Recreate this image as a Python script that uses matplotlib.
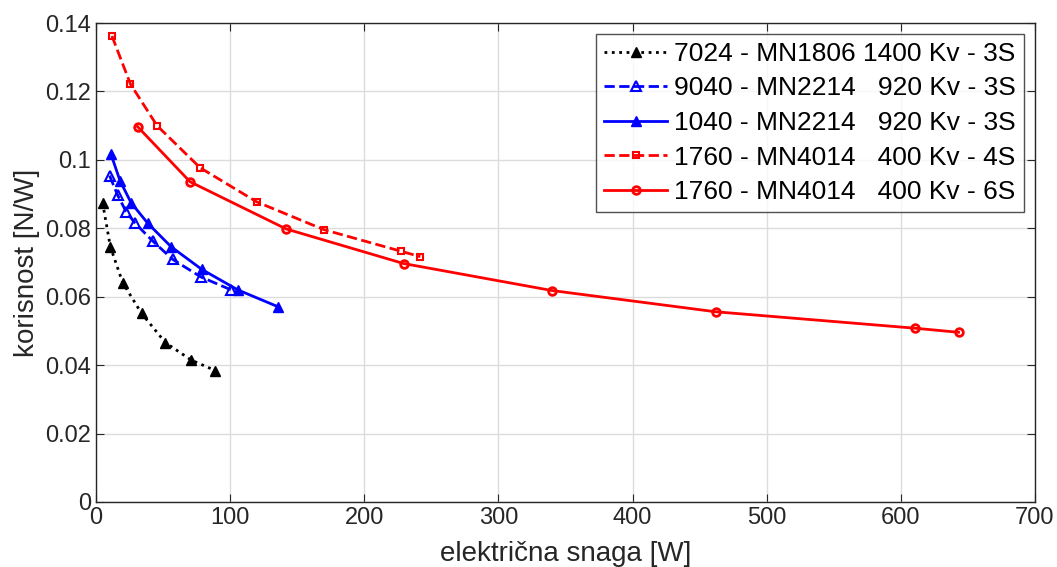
import matplotlib.pyplot as plt

plt.rcParams["font.family"] = ["Liberation Sans", "DejaVu Sans"]

# 7024 - MN1806 1400 Kv - 3S
p_7024 = [4.9, 10.7, 19.9, 34.0, 51.7, 70.9, 89.0]
k_7024 = [0.0875, 0.0746, 0.0641, 0.0551, 0.0466, 0.0415, 0.0384]

# 9040 - MN2214 920 Kv - 3S
p_9040 = [10.1, 16.1, 22.4, 29.1, 42.2, 57.2, 78.1, 100.7]
k_9040 = [0.0954, 0.0897, 0.0849, 0.0815, 0.0763, 0.0709, 0.0658, 0.0620]

# 1040 - MN2214 920 Kv - 3S
p_1040 = [11.2, 17.9, 26.1, 38.5, 56.0, 78.8, 105.7, 135.5]
k_1040 = [0.1016, 0.0939, 0.0875, 0.0815, 0.0746, 0.0680, 0.0620, 0.0571]

# 1760 - MN4014 400 Kv - 4S
p_1760_4s = [11.9, 25.6, 45.5, 77.6, 119.9, 169.9, 227.3, 241.8]
k_1760_4s = [0.1362, 0.1222, 0.1100, 0.0977, 0.0877, 0.0796, 0.0733, 0.0717]

# 1760 - MN4014 400 Kv - 6S
p_1760_6s = [31.0, 70.1, 141.8, 229.3, 340.0, 461.9, 610.4, 643.0]
k_1760_6s = [0.1097, 0.0936, 0.0798, 0.0697, 0.0618, 0.0556, 0.0508, 0.0496]

labels = [
    "7024 - MN1806 1400 Kv - 3S",
    "9040 - MN2214   920 Kv - 3S",
    "1040 - MN2214   920 Kv - 3S",
    "1760 - MN4014   400 Kv - 4S",
    "1760 - MN4014   400 Kv - 6S",
]

dark = "#262626"

fig = plt.figure(figsize=(10.57, 5.67), dpi=100)
ax = fig.add_axes([96 / 1057, 1 - 502 / 567, 939 / 1057, 479 / 567])

lw = 2.0
ax.plot(p_7024, k_7024, ":", color="black", lw=lw, marker="^", ms=7,
        mfc="black", label=labels[0])
ax.plot(p_9040, k_9040, "--", color="blue", lw=lw, marker="^", ms=7,
        mfc="none", mew=1.5, label=labels[1])
ax.plot(p_1040, k_1040, "-", color="blue", lw=lw, marker="^", ms=7,
        mfc="blue", label=labels[2])
ax.plot(p_1760_4s, k_1760_4s, "--", color="red", lw=lw, marker="s", ms=5,
        mfc="none", mew=1.5, label=labels[3])
ax.plot(p_1760_6s, k_1760_6s, "-", color="red", lw=lw, marker="o", ms=5.5,
        mfc="none", mew=2, label=labels[4])

ax.set_xlim(0, 700)
ax.set_ylim(0, 0.14)
ax.set_xticks(range(0, 701, 100))
ax.set_yticks([0, 0.02, 0.04, 0.06, 0.08, 0.1, 0.12, 0.14])
ax.set_yticklabels(["0", "0.02", "0.04", "0.06", "0.08", "0.1", "0.12", "0.14"])
ax.grid(True, color="#dcdcdc", lw=1)
ax.set_axisbelow(True)
ax.tick_params(direction="in", top=True, right=True, labelsize=17, length=6,
               color=dark, labelcolor=dark)
for s in ax.spines.values():
    s.set_color(dark)
    s.set_linewidth(1)

ax.set_xlabel("električna snaga [W]", fontsize=20, labelpad=9, color=dark)
ax.set_ylabel("korisnost [N/W]", fontsize=20, labelpad=4, color=dark)

leg = ax.legend(loc="upper right", bbox_to_anchor=(0.988, 0.977), fontsize=19,
                fancybox=False, edgecolor=dark, handlelength=2.4,
                handletextpad=0.25, borderpad=0.3, labelspacing=0.4,
                borderaxespad=0)
leg.get_frame().set_linewidth(1)

fig.savefig("out.png", dpi=100)
